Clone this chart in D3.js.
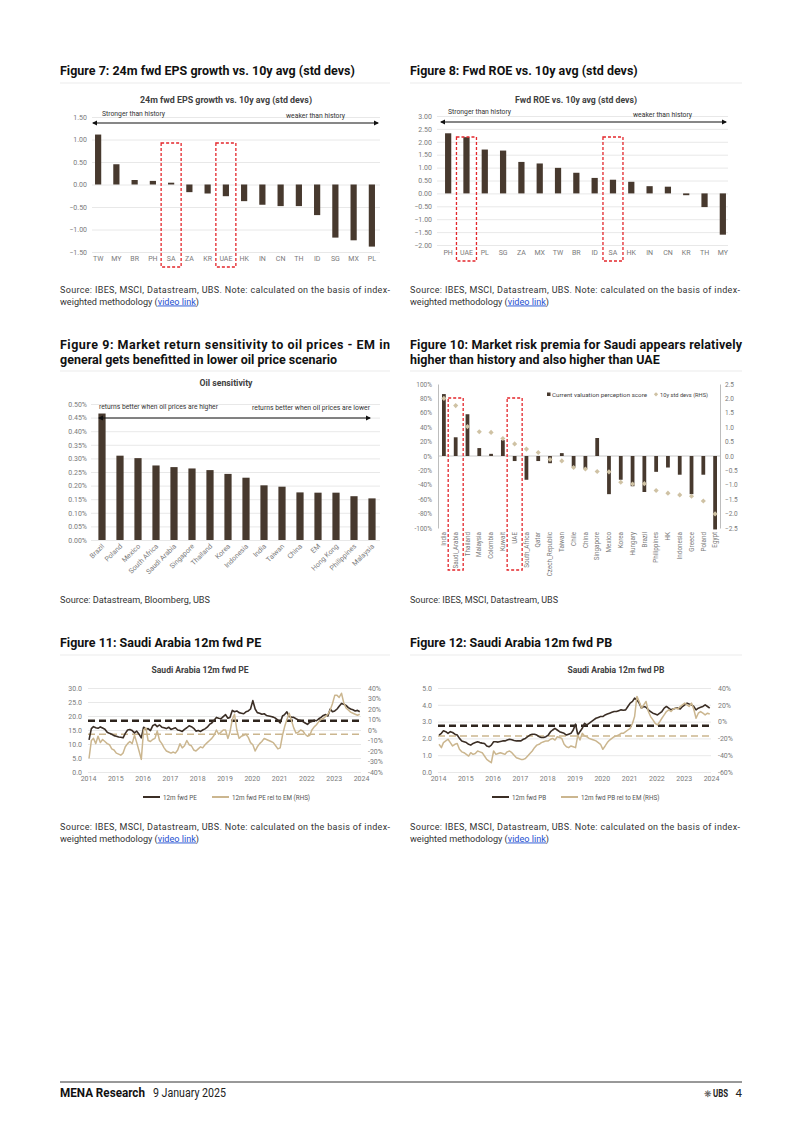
<!DOCTYPE html>
<html>
<head>
<meta charset="utf-8">
<script src="https://cdn.jsdelivr.net/npm/d3@7/dist/d3.min.js"></script>
<style>
html,body{margin:0;padding:0;background:#fff;}
svg{display:block;}
text{font-family:Roboto,"Open Sans",sans-serif;}
</style>
</head>
<body>
<svg id="page" width="802" height="1134"></svg>
<script>
// ================= DATA =================
const fig7Categories = ["TW","MY","BR","PH","SA","ZA","KR","UAE","HK","IN","CN","TH","ID","SG","MX","PL"];
const fig7Values = [1.11,0.45,0.10,0.08,0.04,-0.17,-0.20,-0.26,-0.37,-0.45,-0.48,-0.48,-0.68,-1.18,-1.24,-1.38];
const fig7Ticks = [1.5,1,0.5,0,-0.5,-1,-1.5];
const fig7Highlight = ["SA","UAE"];

const fig8Categories = ["PH","UAE","PL","SG","ZA","MX","TW","BR","ID","SA","HK","IN","CN","KR","TH","MY"];
const fig8Values = [2.33,2.18,1.70,1.66,1.22,1.16,0.99,0.80,0.60,0.53,0.45,0.28,0.26,-0.07,-0.53,-1.60];
const fig8Ticks = [3,2.5,2,1.5,1,0.5,0,-0.5,-1,-1.5,-2];
const fig8Highlight = ["UAE","SA"];

const fig9Categories = ["Brazil","Poland","Mexico","South Africa","Saudi Arabia","Singapore","Thailand","Korea","Indonesia","India","Taiwan","China","EM","Hong Kong","Philippines","Malaysia"];
const fig9Values = [0.465,0.31,0.301,0.274,0.268,0.263,0.257,0.243,0.229,0.201,0.196,0.175,0.174,0.174,0.161,0.153];
const fig9Ticks = [0,0.05,0.1,0.15,0.2,0.25,0.3,0.35,0.4,0.45,0.5];

const fig10Categories = ["India","Saudi_Arabia","Thailand","Malaysia","Colombia","Kuwait","UAE","South_Africa","Qatar","Czech_Republic","Taiwan","Chile","China","Singapore","Mexico","Korea","Hungary","Brazil","Philippines","HK","Indonesia","Greece","Poland","Egypt"];
const fig10Score = [86,26,58,11,3,22,-7,-33,-7,-10,4,-15,-18,25,-53,-33,-42,-50,-22,-16,-26,-53,-26,-102];
const fig10StdDevs = [2.0,1.75,1.02,0.84,0.82,0.61,0.42,0.24,0.12,-0.12,-0.17,-0.40,-0.45,-0.54,-0.55,-0.91,-0.97,-0.96,-1.20,-1.29,-1.35,-1.40,-1.56,-2.01];
const fig10LeftTicks = [100,80,60,40,20,0,-20,-40,-60,-80,-100];
const fig10RightTicks = [2.5,2,1.5,1,0.5,0,-0.5,-1,-1.5,-2,-2.5];
const fig10Highlight = ["Saudi_Arabia","UAE"];

// monthly observations Jan 2014 .. Dec 2023
const peSeries = [
11.5,15.5,16.2,15.8,15.6,16.1,15.7,15.3,14.2,13.8,13.5,13.0,
12.8,12.5,12.4,12.2,13.8,15.0,15.2,14.8,14.0,14.6,13.5,12.2,
16.0,15.2,15.5,14.8,16.5,17.0,16.2,16.8,16.0,15.8,15.5,16.0,
15.2,15.5,15.8,15.0,14.8,14.5,15.2,15.8,16.5,16.2,15.6,14.6,
14.8,14.5,15.0,15.4,16.0,17.0,17.5,18.5,19.5,19.2,19.0,19.8,
20.5,19.2,19.5,22.0,21.5,21.8,21.2,21.0,20.8,21.5,21.8,22.5,
25.5,22.5,21.2,21.0,20.6,20.8,20.2,20.0,19.8,19.6,19.2,18.5,
17.5,20.0,20.5,21.5,19.8,19.6,19.5,19.0,18.6,18.4,18.0,17.5,
17.0,17.8,18.0,18.5,18.3,19.0,19.5,20.2,20.5,20.0,22.5,21.5,
21.8,22.5,23.5,24.5,24.2,23.8,23.0,22.5,22.2,21.8,22.0,21.5];
const peRelSeries = [
-27,-10,-8,-13,-6,-12,-9,-11,-13,-14,-18,-19,
-22,-23,-24,-22,-16,-13,-11,-13,-5,-12,-20,-28,
0,2,-10,-11,-9,-8,-1,-10,-13,-17,-20,-21,
-22,-21,-22,-19,-13,-17,-15,-10,-14,-15,-19,-20,
-18,-16,-17,-14,-12,-10,-8,-5,0,-4,-2,0,
0,-8,-2,10,15,0,-8,-6,-5,-4,-7,-12,
-14,-20,-16,-13,-11,-8,-9,-10,-11,-12,-15,-18,
-17,-5,3,10,16,9,2,-3,-2,0,-1,-4,
-6,-5,0,3,5,8,10,11,13,15,19,25,
33,33,31,35,26,21,19,17,16,15,14,15];
const peAverage = 18.3;
const peRelAverage = -4;
const peTicks = [0,5,10,15,20,25,30];
const peRelTicks = [-40,-30,-20,-10,0,10,20,30,40];

const pbSeries = [
2.2,2.3,2.45,2.4,2.3,2.4,2.35,2.25,2.2,2.0,1.85,1.8,
1.75,1.65,1.6,1.7,1.75,1.8,1.75,1.72,1.7,1.55,1.5,1.6,
1.8,1.8,1.78,1.82,1.85,1.85,1.9,1.95,1.92,1.88,1.85,1.85,
1.85,1.95,2.0,2.1,2.2,2.25,2.25,2.2,2.1,2.05,2.05,2.1,
2.2,2.4,2.5,2.6,2.5,2.4,2.35,2.3,2.2,2.25,2.3,2.5,
2.85,2.2,2.4,2.6,2.9,2.8,2.9,3.0,3.1,3.2,3.25,3.3,
3.3,3.4,3.45,3.5,3.55,3.6,3.6,3.65,3.7,3.68,3.7,3.9,
4.1,4.2,4.4,4.3,4.1,3.8,3.9,3.85,3.7,3.6,3.5,3.45,
3.4,3.5,3.6,3.8,3.9,3.8,3.7,3.75,3.8,3.8,3.75,3.9,
4.0,4.1,4.05,4.0,3.9,3.7,3.8,3.85,3.9,4.0,3.9,3.8];
const pbRelSeries = [
-27,-31,-25,-23,-21,-25,-29,-27,-26,-33,-36,-37,
-39,-41,-37,-39,-38,-35,-36,-37,-41,-45,-47,-49,
-35,-39,-38,-37,-38,-39,-36,-35,-37,-40,-43,-44,
-45,-45,-44,-41,-38,-35,-31,-28,-27,-25,-24,-23,
-23,-21,-20,-22,-18,-19,-20,-27,-30,-31,-29,-30,
-31,-16,-22,-14,-17,-18,-20,-21,-22,-23,-25,-27,
-33,-29,-25,-22,-20,-18,-17,-16,-14,-14,-12,-10,
-8,-2,6,30,24,16,20,24,12,6,2,-2,
-4,0,4,8,12,14,12,15,16,15,18,20,
22,20,18,22,15,4,10,12,10,8,10,9];
const pbAverage = 2.75;
const pbRelAverage = -17;
const pbTicks = [0,1,2,3,4,5];
const pbRelTicks = [-60,-40,-20,0,20,40];

const seriesDates = d3.range(120).map(i => new Date(2014, i, 15));

// ================= STYLE =================
const BAR = "#47392e";
const TAN = "#cbb68f";
const DOT = "#cfc2a4";
const RED = "#e3262b";
const AXIS_TEXT = "#7a7a7a";
const GRID = "#e2e2e2";
const FONT = "Roboto, 'Open Sans', sans-serif";

const svg = d3.select("#page");
svg.append("rect").attr("width", 802).attr("height", 1134).attr("fill", "#fff");

const defs = svg.append("defs");
defs.append("marker").attr("id", "arrow").attr("viewBox", "0 0 10 10")
  .attr("refX", 8).attr("refY", 5).attr("markerWidth", 4.5).attr("markerHeight", 4.5)
  .attr("orient", "auto-start-reverse")
  .append("path").attr("d", "M0,0L10,5L0,10Z").attr("fill", "#111");

function label(g, x, y, s, o = {}) {
  const t = g.append("text").attr("x", x).attr("y", y).text(s)
    .attr("font-size", o.size || 9).attr("fill", o.fill || "#222")
    .attr("font-weight", o.weight || 400).attr("text-anchor", o.anchor || "start")
    .attr("font-family", o.family || FONT);
  if (o.width) t.attr("textLength", o.width).attr("lengthAdjust", o.adjust || "spacingAndGlyphs");
  return t;
}

function styleAxis(a, size) {
  a.attr("font-size", size).attr("font-family", FONT);
  a.selectAll("text").attr("fill", AXIS_TEXT);
}

// ================= PAGE TEXT =================
const page = svg.append("g");
[[60,390],[410,742]].forEach(([a,b]) => {
  [83, 371, 655].forEach(yy => page.append("line").attr("x1", a).attr("x2", b).attr("y1", yy).attr("y2", yy).attr("stroke", "#e6e6e6").attr("stroke-width", 0.8));
});

function headingText(s) {
  return page.append("text").text(s).attr("font-size", 13).attr("font-weight", 700)
    .attr("fill", "#111").attr("font-family", FONT);
}
const probe = headingText("Figure 7: 24m fwd EPS growth vs. 10y avg (std devs)");
const K = 295 / probe.node().getComputedTextLength();
probe.remove();
function heading(x, y, s, justifyWidth) {
  const t = headingText(s).attr("transform", `translate(${x},${y}) scale(${K},1)`);
  if (justifyWidth) t.attr("textLength", justifyWidth / K).attr("lengthAdjust", "spacing");
}
heading(60, 75, "Figure 7: 24m fwd EPS growth vs. 10y avg (std devs)");
heading(410, 75, "Figure 8: Fwd ROE vs. 10y avg (std devs)");
heading(60, 349, "Figure 9: Market return sensitivity to oil prices - EM in", 330);
heading(60, 364, "general gets benefitted in lower oil price scenario");
heading(410, 349, "Figure 10: Market risk premia for Saudi appears relatively", 332);
heading(410, 364, "higher than history and also higher than UAE");
heading(60, 647, "Figure 11: Saudi Arabia 12m fwd PE");
heading(410, 647, "Figure 12: Saudi Arabia 12m fwd PB");

function sourceNote(x, y) {
  label(page, x, y, "Source: IBES, MSCI, Datastream, UBS. Note: calculated on the basis of index-", {size: 9, width: 330, adjust: "spacing", fill: "#333"});
  const t = label(page, x, y + 11.5, "weighted methodology (", {size: 9, fill: "#333"});
  t.append("tspan").text("video link").attr("fill", "#1f4fd1").attr("text-decoration", "underline");
  t.append("tspan").text(")");
  t.attr("textLength", 139).attr("lengthAdjust", "spacingAndGlyphs");
}
sourceNote(60, 293);
sourceNote(410, 293);
sourceNote(60, 830);
sourceNote(410, 830);
label(page, 60, 603, "Source: Datastream, Bloomberg, UBS", {size: 9, width: 150, fill: "#333"});
label(page, 410, 603, "Source: IBES, MSCI, Datastream, UBS", {size: 9, width: 148, fill: "#333"});

// footer
page.append("line").attr("x1", 60).attr("x2", 742).attr("y1", 1082).attr("y2", 1082).attr("stroke", "#333").attr("stroke-width", 1);
label(page, 60, 1097, "MENA Research", {size: 12, weight: 700, width: 85, fill: "#111"});
label(page, 153, 1097, "9 January 2025", {size: 12, width: 73, fill: "#222"});
label(page, 712, 1097, "\u274B", {size: 9, fill: "#555", anchor: "end"});
label(page, 713, 1097, "UBS", {size: 11, weight: 700, family: "'Liberation Serif', serif", fill: "#222", width: 15});
label(page, 742, 1097, "4", {size: 11.5, anchor: "end", fill: "#222"});

// ================= BAR CHARTS =================
function barChart(o) {
  const g = svg.append("g");
  const x = d3.scaleBand().domain(o.categories).range(o.xRange).paddingInner(o.pad).paddingOuter(o.pad / 2);
  const y = d3.scaleLinear().domain(o.yDomain).range(o.yRange);

  label(g, o.titleX, o.titleY, o.title, {size: 8.5, weight: 700, anchor: "middle", fill: "#404040", width: o.titleW});

  const ay = g.append("g").attr("transform", `translate(${o.gridX[0]},0)`)
    .call(d3.axisLeft(y).tickValues(o.ticks).tickFormat(o.fmt)
      .tickSize(-(o.gridX[1] - o.gridX[0])).tickPadding(o.labelGap));
  ay.select(".domain").remove();
  ay.selectAll(".tick line").attr("stroke", GRID).attr("stroke-width", 0.8);
  styleAxis(ay, 7);

  g.append("g").selectAll("rect").data(o.values).join("rect")
    .attr("x", (d, i) => x(o.categories[i])).attr("width", x.bandwidth())
    .attr("y", d => y(Math.max(0, d))).attr("height", d => Math.abs(y(d) - y(0)))
    .attr("fill", BAR);

  const ax = g.append("g").attr("transform", `translate(0,${o.xAxisY})`)
    .call(d3.axisBottom(x).tickSize(0).tickPadding(o.xPad));
  ax.select(".domain").remove();
  styleAxis(ax, o.xFont || 7);
  if (o.rotate) {
    ax.selectAll("text").attr("text-anchor", "end").attr("x", 0).attr("y", 0).attr("dy", "0.35em")
      .attr("transform", `translate(1,5) rotate(${o.rotate})`);
  }

  if (o.arrow) {
    g.append("line").attr("x1", o.arrow[0]).attr("x2", o.arrow[1]).attr("y1", o.arrow[2]).attr("y2", o.arrow[2])
      .attr("stroke", "#111").attr("stroke-width", 1.2)
      .attr("marker-start", "url(#arrow)").attr("marker-end", "url(#arrow)");
  }
  (o.notes || []).forEach(n => label(g, n.x, n.y, n.text, {size: 7, anchor: n.anchor, fill: "#333", width: n.w}));

  (o.highlight || []).forEach(c => {
    g.append("rect").attr("x", x(c) + x.bandwidth() / 2 - o.boxHalf).attr("width", 2 * o.boxHalf)
      .attr("y", o.boxY[0]).attr("height", o.boxY[1] - o.boxY[0])
      .attr("fill", "none").attr("stroke", RED).attr("stroke-width", 1.3).attr("stroke-dasharray", "3,2");
  });
}

barChart({
  categories: fig7Categories, values: fig7Values, ticks: fig7Ticks, fmt: d3.format(".2f"),
  xRange: [89, 381], pad: 0.66, yDomain: [-1.5, 1.5], yRange: [252, 117],
  gridX: [92, 380], labelGap: 5, xAxisY: 253, xPad: 3,
  title: "24m fwd EPS  growth vs. 10y avg (std devs)", titleX: 226, titleY: 103, titleW: 172,
  arrow: [93, 378, 123],
  notes: [{x: 102, y: 115.5, text: "Stronger than history", w: 63}, {x: 345, y: 118, text: "weaker than history", anchor: "end", w: 59}],
  highlight: fig7Highlight, boxHalf: 10, boxY: [143, 267]
});

barChart({
  categories: fig8Categories, values: fig8Values, ticks: fig8Ticks, fmt: d3.format(".2f"),
  xRange: [439, 732], pad: 0.66, yDomain: [-2, 3], yRange: [245, 116],
  gridX: [437, 728], labelGap: 5, xAxisY: 247, xPad: 3,
  title: "Fwd ROE vs. 10y avg (std devs)", titleX: 576, titleY: 103, titleW: 122,
  arrow: [441, 726, 122],
  notes: [{x: 448, y: 114, text: "Stronger than history", w: 63}, {x: 692, y: 116.5, text: "weaker than history", anchor: "end", w: 59}],
  highlight: fig8Highlight, boxHalf: 10, boxY: [137, 261]
});

barChart({
  categories: fig9Categories, values: fig9Values, ticks: fig9Ticks, fmt: d => d.toFixed(2) + "%",
  xRange: [93, 381], pad: 0.6, yDomain: [0, 0.5], yRange: [540, 404],
  gridX: [91, 380], labelGap: 4, xAxisY: 540, xPad: 3, rotate: -45, xFont: 7,
  title: "Oil sensitivity", titleX: 226, titleY: 386, titleW: 53,
  arrow: [99, 370, 418],
  notes: [{x: 99, y: 409, text: "returns better when oil prices are higher", w: 119},
          {x: 370, y: 410, text: "returns better when oil prices are lower", anchor: "end", w: 118}]
});

// ================= FIGURE 10 =================
(function () {
  const g = svg.append("g");
  const x = d3.scaleBand().domain(fig10Categories).range([438, 721]).paddingInner(0.68).paddingOuter(0.34);
  const yL = d3.scaleLinear().domain([-100, 100]).range([528, 384]);
  const yR = d3.scaleLinear().domain([-2.5, 2.5]).range([528, 384]);

  const al = g.append("g").attr("transform", "translate(438,0)")
    .call(d3.axisLeft(yL).tickValues(fig10LeftTicks).tickFormat(d => d + "%").tickSize(0).tickSizeOuter(0).tickPadding(6));
  al.select(".domain").attr("stroke", "#bdbdbd");
  styleAxis(al, 6.5);
  const ar = g.append("g").attr("transform", "translate(720,0)")
    .call(d3.axisRight(yR).tickValues(fig10RightTicks).tickFormat(d3.format(".1f")).tickSize(0).tickSizeOuter(0).tickPadding(5));
  ar.select(".domain").attr("stroke", "#bdbdbd");
  styleAxis(ar, 6.5);

  g.append("line").attr("x1", 438).attr("x2", 720).attr("y1", yL(0)).attr("y2", yL(0)).attr("stroke", "#bdbdbd").attr("stroke-width", 0.8);

  g.append("g").selectAll("rect").data(fig10Score).join("rect")
    .attr("x", (d, i) => x(fig10Categories[i])).attr("width", x.bandwidth())
    .attr("y", d => yL(Math.max(0, d))).attr("height", d => Math.abs(yL(d) - yL(0)))
    .attr("fill", BAR);

  const diamond = d3.symbol(d3.symbolSquare, 13);
  g.append("g").selectAll("path").data(fig10StdDevs).join("path")
    .attr("d", diamond)
    .attr("transform", (d, i) => `translate(${x(fig10Categories[i]) + x.bandwidth() / 2},${yR(d)}) rotate(45)`)
    .attr("fill", DOT);

  const ax = g.append("g").attr("transform", "translate(0,528)")
    .call(d3.axisBottom(x).tickSize(0));
  ax.select(".domain").remove();
  styleAxis(ax, 6.3);
  ax.selectAll("text").attr("text-anchor", "end").attr("x", -4).attr("y", 0).attr("dy", "0.35em")
    .attr("transform", "rotate(-90)");

  g.append("rect").attr("x", 547).attr("y", 392.5).attr("width", 3.5).attr("height", 3.5).attr("fill", BAR);
  label(g, 552, 396.5, "Current  valuation perception score", {size: 6, fill: "#444", width: 95});
  g.append("path").attr("d", d3.symbol(d3.symbolSquare, 9)).attr("transform", "translate(656,394.3) rotate(45)").attr("fill", DOT);
  label(g, 660, 396.5, "10y std devs (RHS)", {size: 6, fill: "#444", width: 48});

  fig10Highlight.forEach(c => {
    g.append("rect").attr("x", x(c) + x.bandwidth() / 2 - 7.5).attr("width", 15)
      .attr("y", 398).attr("height", 172)
      .attr("fill", "none").attr("stroke", RED).attr("stroke-width", 1.3).attr("stroke-dasharray", "3,2");
  });
})();

// ================= TIME SERIES =================
function tsChart(o) {
  const g = svg.append("g");
  const x = d3.scaleTime().domain([new Date(2014, 0, 1), new Date(2024, 0, 1)]).range(o.xRange);
  const yL = d3.scaleLinear().domain(o.lDomain).range([772, 688]);
  const yR = d3.scaleLinear().domain(o.rDomain).range([772, 688]);
  const w = o.xRange[1] - o.xRange[0];

  label(g, o.titleX, 673, o.title, {size: 8.5, weight: 700, anchor: "middle", fill: "#404040", width: 97});

  const al = g.append("g").attr("transform", `translate(${o.xRange[0]},0)`)
    .call(d3.axisLeft(yL).tickValues(o.lTicks).tickFormat(d3.format(".1f")).tickSize(-w).tickPadding(6));
  al.select(".domain").remove();
  al.selectAll(".tick line").attr("stroke", GRID).attr("stroke-width", 0.8);
  styleAxis(al, 7);

  const ar = g.append("g").attr("transform", `translate(${o.xRange[1]},0)`)
    .call(d3.axisRight(yR).tickValues(o.rTicks).tickFormat(d => d + "%").tickSize(0).tickPadding(7));
  ar.select(".domain").remove();
  styleAxis(ar, 7);

  const ax = g.append("g").attr("transform", "translate(0,772)")
    .call(d3.axisBottom(x).ticks(d3.timeYear.every(1)).tickFormat(d3.timeFormat("%Y")).tickSize(0).tickPadding(4));
  ax.select(".domain").remove();
  styleAxis(ax, 7);

  g.append("line").attr("x1", o.xRange[0]).attr("x2", o.xRange[1]).attr("y1", yL(o.lAvg)).attr("y2", yL(o.lAvg))
    .attr("stroke", "#2e241d").attr("stroke-width", 2.4).attr("stroke-dasharray", "7,4");
  g.append("line").attr("x1", o.xRange[0]).attr("x2", o.xRange[1]).attr("y1", yR(o.rAvg)).attr("y2", yR(o.rAvg))
    .attr("stroke", TAN).attr("stroke-width", 1.5).attr("stroke-dasharray", "7,4");

  const lineL = d3.line().x((d, i) => x(seriesDates[i])).y(d => yL(d));
  const lineR = d3.line().x((d, i) => x(seriesDates[i])).y(d => yR(d));
  g.append("path").attr("d", lineL(o.lSeries)).attr("fill", "none").attr("stroke", "#3b2e25").attr("stroke-width", 1.6).attr("stroke-linejoin", "round");
  g.append("path").attr("d", lineR(o.rSeries)).attr("fill", "none").attr("stroke", TAN).attr("stroke-width", 1.5).attr("stroke-linejoin", "round");

  const lx = o.legendX;
  g.append("line").attr("x1", lx).attr("x2", lx + 17).attr("y1", 797).attr("y2", 797).attr("stroke", "#3b2e25").attr("stroke-width", 2);
  label(g, lx + 20, 799.5, o.lName, {size: 6.3, fill: "#555"});
  g.append("line").attr("x1", lx + 69).attr("x2", lx + 86).attr("y1", 797).attr("y2", 797).attr("stroke", TAN).attr("stroke-width", 2);
  label(g, lx + 89, 799.5, o.rName, {size: 6.3, fill: "#555"});
}

tsChart({
  xRange: [88, 361], lDomain: [0, 30], rDomain: [-40, 40], lTicks: peTicks, rTicks: peRelTicks,
  lSeries: peSeries, rSeries: peRelSeries, lAvg: peAverage, rAvg: peRelAverage,
  title: "Saudi Arabia 12m fwd PE", titleX: 200, legendX: 143,
  lName: "12m fwd PE", rName: "12m fwd PE rel to EM (RHS)"
});
tsChart({
  xRange: [438, 711], lDomain: [0, 5], rDomain: [-60, 40], lTicks: pbTicks, rTicks: pbRelTicks,
  lSeries: pbSeries, rSeries: pbRelSeries, lAvg: pbAverage, rAvg: pbRelAverage,
  title: "Saudi Arabia 12m fwd PB", titleX: 616, legendX: 492,
  lName: "12m fwd PB", rName: "12m fwd PB rel to EM (RHS)"
});
</script>
</body>
</html>
